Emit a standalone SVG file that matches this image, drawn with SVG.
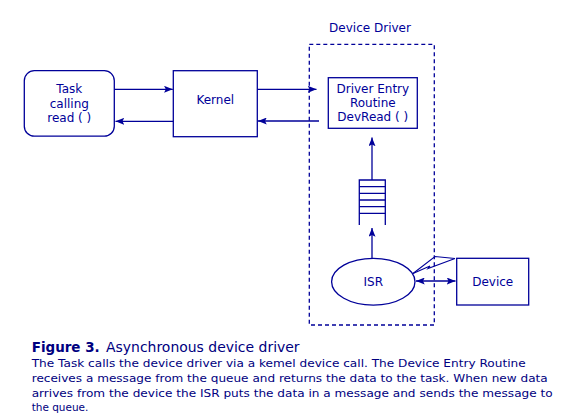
<svg xmlns="http://www.w3.org/2000/svg" width="566" height="420" viewBox="0 0 566 420">
<defs>
<style>
.shape{fill:#fff;stroke:#000099;stroke-width:1.3}
.lbl{font-family:"DejaVu Sans",Verdana,sans-serif;font-size:12px;fill:#000099;text-anchor:middle}
.conn line{stroke:#000099;stroke-width:1.3;fill:none}
.cap{font-family:"DejaVu Sans",Verdana,sans-serif;fill:#000080}
</style>
<marker id="ah" viewBox="0 0 10 8" refX="10" refY="4" markerWidth="9" markerHeight="7" markerUnits="userSpaceOnUse" orient="auto-start-reverse">
<path d="M0,0 L10,4 L0,8 L2,4 z" fill="#000099"/>
</marker>
</defs>
<rect width="566" height="420" fill="#fff"/>

<g id="driver-boundary">
<rect x="309.3" y="44.3" width="125" height="280.7" fill="none" stroke="#000099" stroke-width="1.3" stroke-dasharray="4,3"/>
<text class="lbl" x="370" y="31.7">Device Driver</text>
</g>

<g id="task">
<rect class="shape" x="24.3" y="70.7" width="90" height="65.5" rx="10" ry="10"/>
<text class="lbl" x="69.3" y="93.3">Task</text>
<text class="lbl" x="69.3" y="107.7">calling</text>
<text class="lbl" x="69.3" y="121.7">read ( )</text>
</g>

<g id="kernel">
<rect class="shape" x="173.3" y="70.7" width="84" height="66"/>
<text class="lbl" x="215.3" y="104.3">Kernel</text>
</g>

<g id="entry">
<rect class="shape" x="328.3" y="77.7" width="89" height="50.6"/>
<text class="lbl" x="372.8" y="93.3">Driver Entry</text>
<text class="lbl" x="372.8" y="106.7">Routine</text>
<text class="lbl" x="372.8" y="120.7">DevRead ( )</text>
</g>

<g id="queue" stroke="#000099" stroke-width="1.3" fill="none">
<path d="M359.3,225 V180 H385.3 V225"/>
<path d="M359.3,186.7 H385.3 M359.3,193.3 H385.3 M359.3,200 H385.3 M359.3,206.7 H385.3 M359.3,213.3 H385.3"/>
</g>

<g id="isr">
<ellipse class="shape" cx="373.3" cy="281.7" rx="41.7" ry="23.4"/>
<text class="lbl" x="373.3" y="286">ISR</text>
</g>

<g id="device">
<rect class="shape" x="456.7" y="258.3" width="72" height="46.7"/>
<text class="lbl" x="492.7" y="286">Device</text>
</g>

<g id="interrupt" fill="none" stroke="#000099" stroke-width="1.1">
<polyline points="413,273.5 435,256.5 455,258.5"/>
<polyline points="413,273.5 430,266 428,268.5 455,258.5"/>
</g>

<g class="conn" id="connectors">
<line x1="114.3" y1="89.3" x2="172.8" y2="89.3" marker-end="url(#ah)"/>
<line x1="173.3" y1="121.3" x2="115.5" y2="121.3" marker-end="url(#ah)"/>
<line x1="257.3" y1="89.3" x2="316.5" y2="89.3" marker-end="url(#ah)"/>
<line x1="319" y1="121" x2="258" y2="121" marker-end="url(#ah)"/>
<line x1="372" y1="180" x2="372" y2="137.5" marker-end="url(#ah)"/>
<line x1="372" y1="258.3" x2="372" y2="228" marker-end="url(#ah)"/>
<line x1="416" y1="281" x2="455.5" y2="281" marker-start="url(#ah)" marker-end="url(#ah)"/>
</g>

<g id="caption">
<text class="cap" x="31.7" y="352.3" font-size="13.5"><tspan font-weight="bold" textLength="68" lengthAdjust="spacingAndGlyphs">Figure 3.</tspan></text>
<text class="cap" x="106" y="352.3" font-size="13.5" textLength="193.6" lengthAdjust="spacingAndGlyphs">Asynchronous device driver</text>
<text class="cap" x="31.7" y="367.3" font-size="11" textLength="494" lengthAdjust="spacingAndGlyphs">The Task calls the device driver via a kemel device call. The Device Entry Routine</text>
<text class="cap" x="31.7" y="381.7" font-size="11" textLength="516" lengthAdjust="spacingAndGlyphs">receives a message from the queue and returns the data to the task. When new data</text>
<text class="cap" x="31.7" y="396.7" font-size="11" textLength="521" lengthAdjust="spacingAndGlyphs">arrives from the device the ISR puts the data in a message and sends the message to</text>
<text class="cap" x="31.7" y="411" font-size="11" textLength="56.7" lengthAdjust="spacingAndGlyphs">the queue.</text>
</g>
</svg>
